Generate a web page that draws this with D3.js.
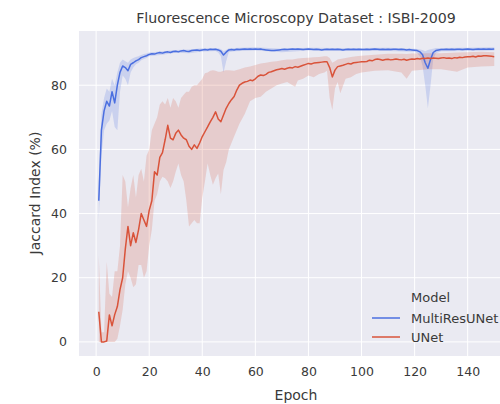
<!DOCTYPE html>
<html>
<head>
<meta charset="utf-8">
<script src="https://cdn.jsdelivr.net/npm/d3@7"></script>
<style>
body { margin: 0; background: #fff; }
svg { display: block; font-family: "DejaVu Sans", sans-serif; }
</style>
</head>
<body>
<div id="chart"></div>
<script>
const width = 500, height = 404;
const margin = {top: 31, right: -14, bottom: 48, left: 79};

// mean Jaccard index per epoch (1..150)
const multiResMean = [
  44, 66, 72, 75, 73.5, 78, 74.5, 80, 84, 86, 85.5, 84.5, 86.5, 87, 87.6, 88, 88.6, 88.9, 89.2, 89.6,
  89.8, 89.7, 90.0, 90.2, 90.0, 90.3, 90.4, 90.2, 90.5, 90.6, 90.4, 90.7, 90.8, 90.6, 90.5, 90.8, 90.9, 91.0, 90.8, 91.0,
  91.1, 91.0, 91.2, 91.1, 91.2, 91.0, 90.6, 89.4, 90.3, 91.0, 91.1, 91.0, 91.2, 91.1, 91.2, 91.3, 91.2, 91.3, 91.2, 91.3,
  91.2, 91.3, 91.1, 91.0, 90.9, 90.8, 90.8, 90.9, 91.0, 91.1, 91.2, 91.1, 91.2, 91.3, 91.2, 91.3, 91.2, 91.1, 91.2, 91.3,
  91.2, 91.1, 91.2, 91.1, 91.0, 91.1, 91.2, 91.1, 91.2, 91.1, 91.2, 91.1, 91.0, 91.1, 91.2, 91.1, 91.2, 91.1, 91.2, 91.1,
  91.1, 91.2, 91.1, 91.2, 91.3, 91.2, 91.1, 91.2, 91.1, 91.2, 91.1, 91.2, 91.2, 91.1, 91.2, 91.1, 91.0, 91.1, 91.0, 90.9,
  90.8, 90.4, 89.5, 87.0, 85.3, 88.0, 90.2, 90.8, 91.0, 91.1, 91.1, 91.2, 91.1, 91.2, 91.1, 91.2, 91.2, 91.1, 91.2, 91.3,
  91.2, 91.1, 91.2, 91.3, 91.2, 91.3, 91.2, 91.3, 91.2, 91.3
];
const unetMean = [
  9.4, 0, 0, 0.3, 8.4, 5, 8.5, 11, 16.3, 20, 29, 36, 30, 34, 31, 35, 40, 38, 36, 41,
  44, 53, 52, 57.5, 59, 63, 67.5, 63.5, 63, 65, 66, 64.5, 63.5, 63, 61, 60, 61.4, 60.3, 62, 64,
  65.5, 67, 68.6, 70, 71.7, 69.5, 68.6, 70.7, 72.8, 74.3, 75.5, 76.5, 78.5, 80, 80.6, 81, 81.2, 81.6, 81.4, 82,
  82.8, 83.2, 83, 83.4, 84, 84.2, 84.5, 84.8, 85, 85.2, 85, 85.3, 85.5, 85.4, 85.8, 85.6, 85.9, 86.2, 86.5, 86.8,
  86.6, 86.9, 87, 87.1, 87.2, 87.3, 87.3, 85.5, 82.6, 84.7, 85.8, 86, 86.2, 86.5, 86.8, 86.6, 87, 87.1, 87.2, 87.3,
  87.3, 87.4, 87.8, 87.6, 88, 88.2, 88, 87.8, 88, 88.1, 87.9, 88, 88.2, 88, 87.9, 88.1, 87.8, 88, 88.2, 88.1,
  88.3, 88.2, 88.4, 88.3, 88.5, 88.3, 88.5, 88.4, 88.3, 88.5, 88.6, 88.4, 88.5, 88.3, 88.6, 88.5, 88.7, 88.6, 88.8, 88.9,
  88.9, 89, 88.8, 89.1, 89, 89.2, 89.2, 89.1, 89, 88.9
];

// confidence band, read at selected epochs
const multiResBandEpoch = [1, 2, 3, 4, 5, 6, 7, 8, 9, 10, 11, 12, 13, 14, 15, 16, 17, 18, 19, 20,
  25, 30, 35, 40, 45, 46, 47, 48, 49, 50, 52, 60, 70, 80, 90, 100, 110, 120,
  121, 122, 123, 124, 125, 126, 127, 128, 130, 140, 150];
const multiResLow = [38, 58, 66, 68, 69, 72, 67, 66, 78, 83, 82, 80, 84, 85.5, 86.5, 87, 87.8, 88.2, 88.5, 89,
  89.5, 90.1, 90, 90.5, 90.7, 90.2, 89, 84, 87.5, 90.3, 90.6, 90.8, 90.3, 90.8, 90.7, 90.7, 90.7, 90.4,
  90, 89, 86, 80, 72.8, 80, 88, 90, 90.6, 90.7, 90.8];
const multiResHigh = [50, 71, 76, 79, 78, 82, 80, 84, 87, 88, 87.5, 87, 88, 88.5, 88.8, 89, 89.4, 89.7, 89.9, 90.2,
  90.6, 91, 91.1, 91.5, 91.6, 91.5, 91.3, 90.6, 91, 91.5, 91.6, 91.8, 91.4, 91.7, 91.6, 91.6, 91.7, 91.4,
  91.3, 91.1, 91, 90.6, 91, 91.2, 91.4, 91.6, 91.6, 91.7, 91.8];

const unetBandEpoch = [1, 2, 3, 4, 5, 6, 7, 8, 9, 10, 11, 12, 13, 14, 15, 16, 17, 18, 19, 20,
  21, 22, 23, 24, 25, 26, 27, 28, 29, 30, 31, 32, 33, 34, 35, 36, 37, 38, 39, 40,
  41, 42, 43, 44, 45, 46, 47, 48, 49, 50, 52, 54, 56, 58, 60, 62, 64, 66, 68, 70,
  72, 74, 75, 76, 78, 80, 82, 84, 86, 87, 88, 89, 90, 91, 92, 94, 96, 98, 100, 105,
  110, 115, 117, 119, 125, 130, 136, 140, 145, 150];
const unetLow = [0, 0, 0, 0, 0, 0, 0, 1, 5, 10, 18, 22, 20, 17, 18, 24, 24, 20, 22, 30,
  35, 44, 46, 50, 51.5, 51, 50, 48, 50, 53, 55.6, 52, 50, 44, 36, 37, 38, 37, 37, 45,
  50, 55.6, 52, 49, 51, 52.5, 46, 53.6, 56, 60, 64, 68, 71, 75, 76, 76.4, 78, 79, 80, 80.5,
  81, 80, 79.5, 81.5, 82, 83, 82.5, 83.5, 84, 84.5, 76, 72.3, 79, 81, 77.5, 82, 82.5, 83.5, 84, 84.5,
  84.7, 84, 82, 84.5, 85, 85, 84.2, 85.5, 85.8, 86];
const unetHigh = [27, 3, 3, 25, 15, 14, 22, 22, 30, 52, 50, 42, 48, 52, 45, 52, 54, 50, 58, 60,
  66, 68, 70, 74, 75, 74, 76, 73, 76, 75, 73, 76, 77, 78, 78, 79.5, 80, 80, 81, 82,
  83.7, 84, 84.5, 84.7, 84.5, 84.2, 84.2, 84.5, 84.7, 84.7, 84.5, 85, 85.5, 85.8, 86.3, 86.8, 87, 87.3, 87.5, 87.8,
  88, 88, 88.2, 88.3, 88.5, 88.6, 88.7, 88.8, 89, 89, 88.5, 87, 87.5, 88, 88.2, 88.5, 88.8, 89, 89.2, 89.5,
  89.8, 89.8, 89.7, 89.9, 90, 90, 90.2, 90.3, 90.4, 90.3];

const models = ['MultiResUNet', 'UNet'];
const colors = ['#4b6fe0', '#d9533a'];
const xTicks = [0, 20, 40, 60, 80, 100, 120, 140];
const yTicks = [0, 20, 40, 60, 80];

const series = [
  {name: models[0], color: colors[0], mean: multiResMean, bandE: multiResBandEpoch, lo: multiResLow, hi: multiResHigh},
  {name: models[1], color: colors[1], mean: unetMean, bandE: unetBandEpoch, lo: unetLow, hi: unetHigh}
];

const svg = d3.select('#chart').append('svg')
  .attr('width', width).attr('height', height);

const x = d3.scaleLinear().domain([-6.45, 157.45]).range([margin.left, width - margin.right]);
const y = d3.scaleLinear().domain([-4.4, 96.9]).range([height - margin.bottom, margin.top]);

svg.append('rect')
  .attr('x', x.range()[0]).attr('y', margin.top)
  .attr('width', x.range()[1] - x.range()[0])
  .attr('height', y.range()[0] - y.range()[1])
  .attr('fill', '#eaeaf2');

const grid = svg.append('g');
grid.selectAll('.gx').data(xTicks).enter().append('line')
  .attr('x1', d => x(d)).attr('x2', d => x(d))
  .attr('y1', margin.top).attr('y2', height - margin.bottom)
  .attr('stroke', '#fff').attr('stroke-width', 1);
grid.selectAll('.gy').data(yTicks).enter().append('line')
  .attr('x1', x.range()[0]).attr('x2', x.range()[1])
  .attr('y1', d => y(d)).attr('y2', d => y(d))
  .attr('stroke', '#fff').attr('stroke-width', 1);

const area = d3.area()
  .x(d => x(d.e)).y0(d => y(d.lo)).y1(d => y(d.hi));
const line = d3.line()
  .x((d, i) => x(i + 1)).y(d => y(d));

series.forEach(s => {
  const band = s.bandE.map((e, i) => ({e: e, lo: s.lo[i], hi: s.hi[i]}));
  svg.append('path').datum(band)
    .attr('d', area)
    .attr('fill', s.color).attr('fill-opacity', 0.2);
});
series.forEach(s => {
  svg.append('path').datum(s.mean)
    .attr('d', line)
    .attr('fill', 'none').attr('stroke', s.color)
    .attr('stroke-width', 1.5).attr('stroke-linejoin', 'round');
});

// axes, seaborn darkgrid style: no ticks, no spines
const xAxis = svg.append('g')
  .attr('transform', `translate(0,${height - margin.bottom})`)
  .call(d3.axisBottom(x).tickValues(xTicks).tickSize(0).tickPadding(11));
const yAxis = svg.append('g')
  .attr('transform', `translate(${margin.left},0)`)
  .call(d3.axisLeft(y).tickValues(yTicks).tickSize(0).tickPadding(12));
[xAxis, yAxis].forEach(a => {
  a.select('.domain').remove();
  a.selectAll('text').attr('font-size', 12.5).attr('fill', '#3a3a3a')
    .attr('font-family', '"DejaVu Sans", sans-serif');
});

svg.append('text')
  .attr('x', 296).attr('y', 23)
  .attr('text-anchor', 'middle').attr('font-size', 14.2).attr('fill', '#3a3a3a')
  .text('Fluorescence Microscopy Dataset : ISBI-2009');
svg.append('text')
  .attr('x', 296).attr('y', 399.5)
  .attr('text-anchor', 'middle').attr('font-size', 14).attr('fill', '#3a3a3a')
  .text('Epoch');
svg.append('text')
  .attr('transform', 'translate(39.5,193) rotate(-90)')
  .attr('text-anchor', 'middle').attr('font-size', 14).attr('fill', '#3a3a3a')
  .text('Jaccard Index (%)');

// legend
const legend = svg.append('g').attr('transform', 'translate(372,297)');
legend.append('text')
  .attr('x', 39).attr('y', 4.5).attr('font-size', 13).attr('fill', '#3a3a3a')
  .text('Model');
series.forEach((s, i) => {
  const g = legend.append('g').attr('transform', `translate(0,${21 + i * 19})`);
  g.append('line').attr('x1', 0).attr('x2', 28)
    .attr('stroke', s.color).attr('stroke-width', 1.5);
  g.append('text').attr('x', 39).attr('y', 4.5)
    .attr('font-size', 13).attr('fill', '#3a3a3a').text(s.name);
});
</script>
</body>
</html>
